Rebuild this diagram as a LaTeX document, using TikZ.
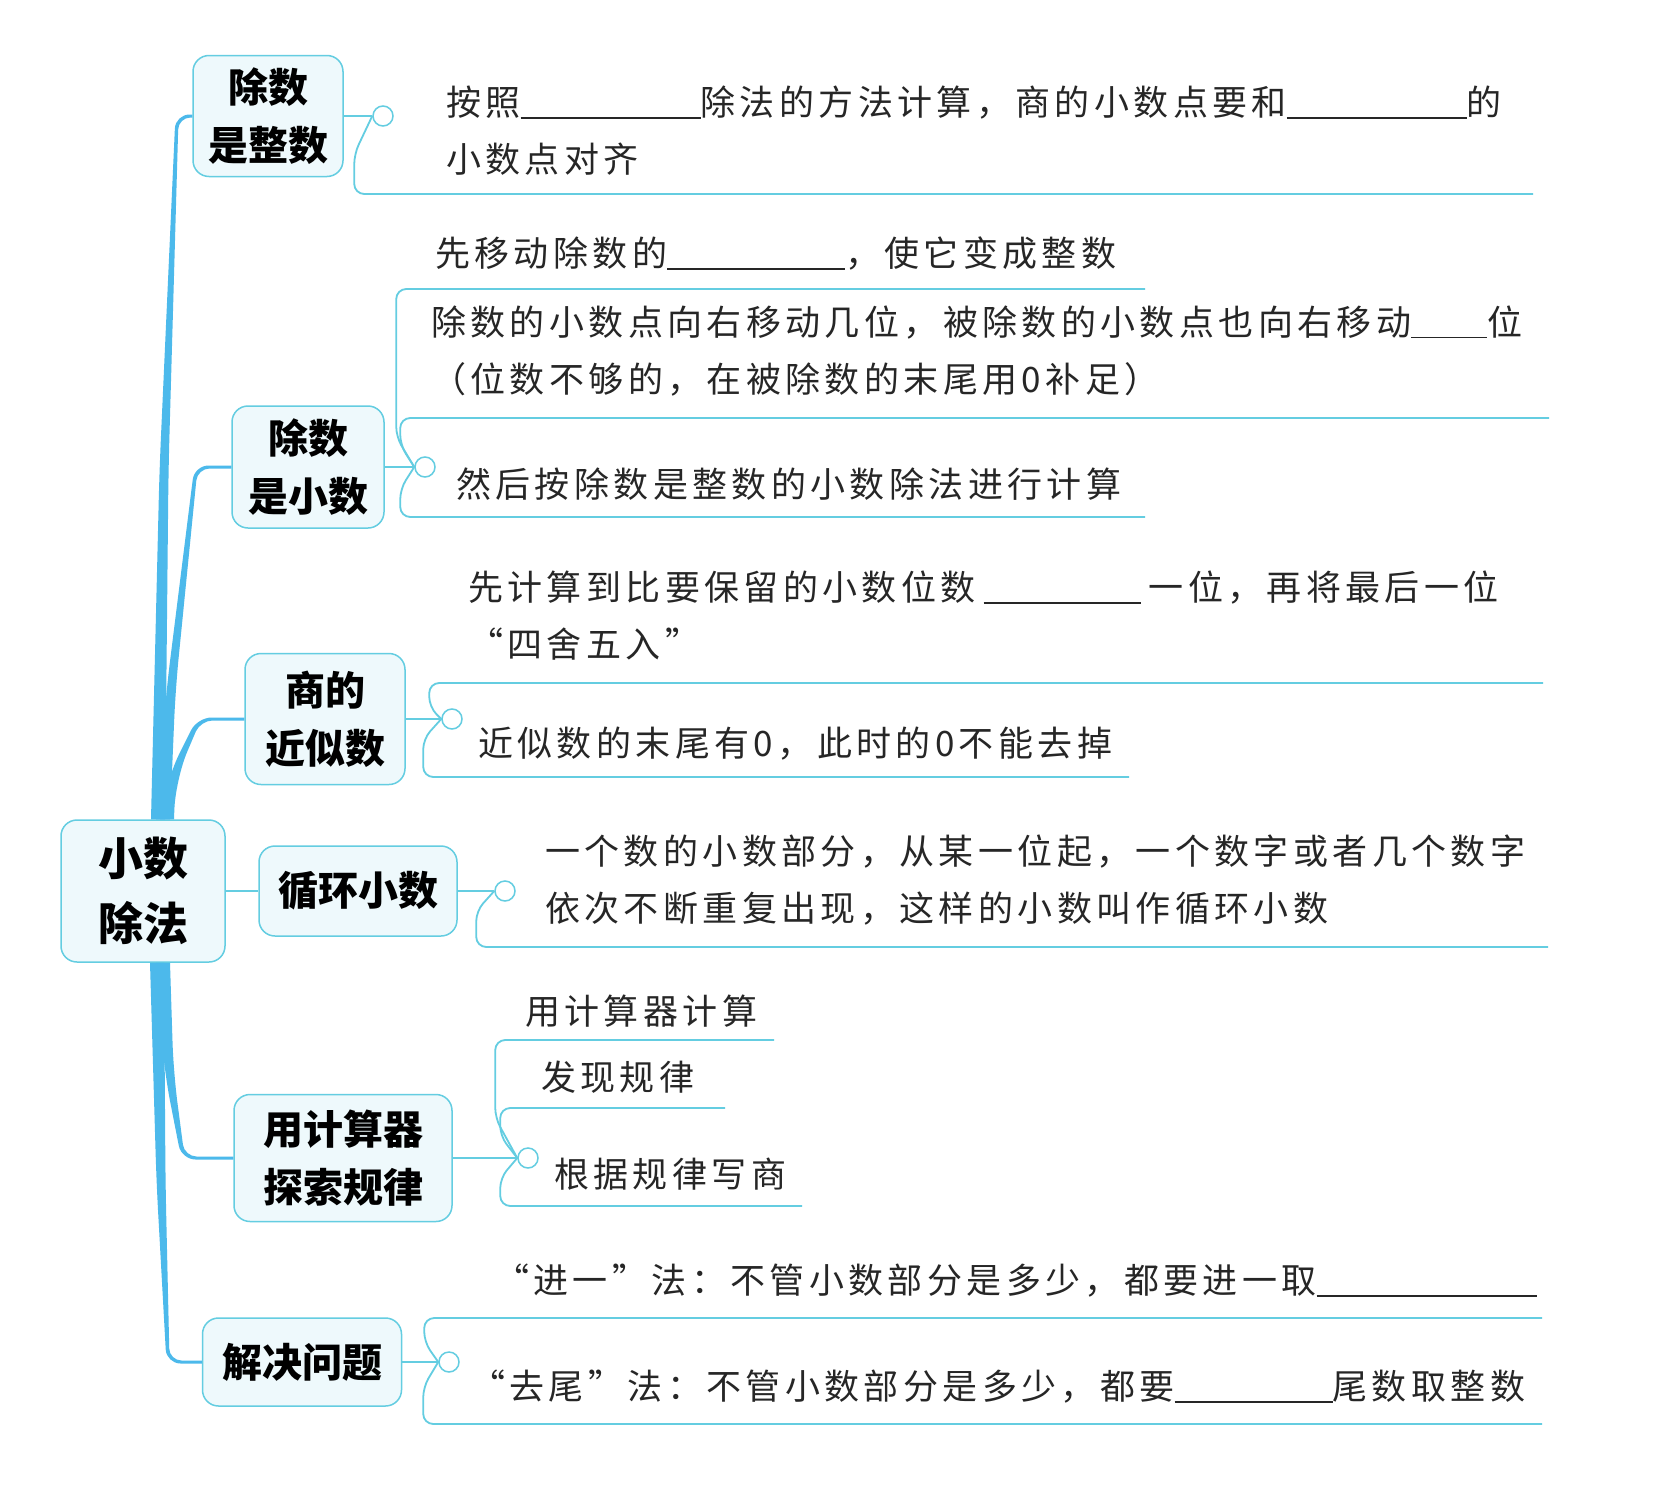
\documentclass[tikz,border=0pt]{standalone}
\usepackage{fontspec}
\usepackage{tikz}
\usetikzlibrary{calc,positioning}
\newfontfamily\hei{Noto Sans CJK SC}
\newfontfamily\kai[LetterSpace=12.5]{Noto Sans CJK SC}
\definecolor{trunkblue}{RGB}{76,185,235}
\definecolor{boxline}{RGB}{100,205,225}
\definecolor{boxfill}{RGB}{238,249,252}
\newcommand{\fillin}[1]{\rule[-3pt]{#1pt}{1.8pt}}

\begin{document}
\begin{tikzpicture}[x=1pt,y=-1pt]

\tikzset{
  topic/.style={draw=boxline, fill=boxfill, rounded corners=16pt, line width=1.5pt,
                font=\hei\bfseries\fontsize{40}{58}\selectfont, align=center, inner sep=0pt},
  knob/.style={circle, draw=boxline, fill=white, line width=1.5pt,
               minimum size=20pt, inner sep=0pt},
  note/.style={anchor=west, inner sep=0pt, align=left, text=black!85,
               font=\kai\fontsize{35}{57}\selectfont},
  stem/.style={boxline, line width=2pt},
  leaf/.style={boxline, line width=1.8pt, rounded corners=10pt},
  trunk/.style={fill=trunkblue}
}

\newcommand{\branch}[5]{
  \fill[trunk] let \p1=(#1), \p2=($(\p1)+(#2)$), \p3=(#4) in
    ({\x1-7pt},\y1) [rounded corners=30pt] -- ({\x2-4.5pt},\y2)
    [rounded corners=14pt] -- ({#3pt-1.5pt},{\y3+#5*1.5pt})
    [sharp corners] -- (\x3,{\y3+#5*1.5pt}) -- (\x3,{\y3-#5*1.5pt})
    [rounded corners=12pt] -- ({#3pt+1.5pt},{\y3-#5*1.5pt})
    [rounded corners=30pt] -- ({\x2+4.5pt},\y2)
    [sharp corners] -- ({\x1+7pt},\y1) -- cycle;
}

% Page
\fill[white] (0,0) rectangle (1655,1491);
\useasboundingbox (0,0) rectangle (1655,1491);

% Root
\node[topic, minimum width=164pt, minimum height=142pt,
      font=\hei\bfseries\fontsize{45}{65}\selectfont] (root) at (143,891) {小数\\除法};

% Topics
\node[topic, minimum width=150pt, minimum height=121pt] (b1) at (268,116) {除数\\是整数};
\node[topic, minimum width=152pt, minimum height=122pt] (b2) at (308,467) {除数\\是小数};
\node[topic, minimum width=160pt, minimum height=131pt] (b3) at (325,719) {商的\\近似数};
\node[topic, minimum width=198pt, minimum height=90pt]  (b4) at (358,891) {循环小数};
\node[topic, minimum width=218pt, minimum height=127pt] (b5) at (343,1158) {用计算器\\探索规律};
\node[topic, minimum width=199pt, minimum height=88pt]  (b6) at (302,1362) {解决问题};

% Trunk
\branch{$(root.north)+(15,0)$}{6,-350}{177}{b1.west}{1}
\branch{$(root.north)+(20,0)$}{8,-130}{196}{b2.west}{1}
\branch{$(root.north)+(24,0)$}{4,-40}{199}{b3.west}{1}
\draw[stem] (root.east) -- (b4.west);
\branch{$(root.south)+(20,0)$}{6,110}{183}{b5.west}{-1}
\branch{$(root.south)+(14,0)$}{4,220}{168}{b6.west}{-1}

% Knobs
\node[knob] (c1) at (383,116) {};
\node[knob] (c2) at (425,467) {};
\node[knob] (c3) at (452,719) {};
\node[knob] (c4) at (505,891) {};
\node[knob] (c5) at (528,1158) {};
\node[knob] (c6) at (449,1362) {};
\foreach \i in {1,...,6}
  \draw[stem] (b\i.east) -- (c\i.west);

% Underline ends
\coordinate (u1)  at (1533,194);
\coordinate (u2a) at (1145,289);
\coordinate (u2b) at (1549,418);
\coordinate (u2c) at (1145,517);
\coordinate (u3a) at (1543,683);
\coordinate (u3b) at (1129,777);
\coordinate (u4)  at (1548,947);
\coordinate (u5a) at (774,1040);
\coordinate (u5b) at (725,1108);
\coordinate (u5c) at (802,1206);
\coordinate (u6a) at (1542,1318);
\coordinate (u6b) at (1542,1424);

% Leaves
\draw[leaf] (c1.west) -- ++(-18,38) |- (u1);
\draw[leaf] (c2.west) -- ++(-18,-30) |- (u2a);
\draw[leaf] (c2.west) -- ++(-14,-22) |- (u2b);
\draw[leaf] (c2.west) -- ++(-14,22) |- (u2c);
\draw[leaf] (c3.west) -- ++(-12,-12) |- (u3a);
\draw[leaf] (c3.west) -- ++(-18,20) |- (u3b);
\draw[leaf] (c4.west) -- ++(-18,20) |- (u4);
\draw[leaf] (c5.west) -- ++(-22,-40) |- (u5a);
\draw[leaf] (c5.west) -- ++(-17,-22) |- (u5b);
\draw[leaf] (c5.west) -- ++(-17,20) |- (u5c);
\draw[leaf] (c6.west) -- ++(-14,-20) |- (u6a);
\draw[leaf] (c6.west) -- ++(-15,25) |- (u6b);

% Notes
\node[note] (t1) at (446,131) {按照\fillin{180}除法的方法计算，商的小数点要和\fillin{180}的\\小数点对齐};
\node[note] (t2a) at (435,254) {先移动除数的\fillin{178}，使它变成整数};
\node[note] (t2b) at (431,351) {除数的小数点向右移动几位，被除数的小数点也向右移动\fillin{76}位\\（位数不够的，在被除数的末尾用0补足）};
\node[note] (t2c) at (456,484) {然后按除数是整数的小数除法进行计算};
\node[note] (t3a) at (468,616) {先计算到比要保留的小数位数\hspace{8pt}\fillin{157}\hspace{8pt}一位，再将最后一位\\“四舍五入”};
\node[note] (t3b) at (478,744) {近似数的末尾有0，此时的0不能去掉};
\node[note] (t4) at (545,880) {一个数的小数部分，从某一位起，一个数字或者几个数字\\依次不断重复出现，这样的小数叫作循环小数};
\node[note] (t5a) at (525,1011) {用计算器计算};
\node[note] (t5b) at (541,1077) {发现规律};
\node[note] (t5c) at (554,1174) {根据规律写商};
\node[note] (t6a) at (494,1281) {“进一”法：不管小数部分是多少，都要进一取\fillin{220}};
\node[note] (t6b) at (470,1387) {“去尾”法：不管小数部分是多少，都要\fillin{158}尾数取整数};

\end{tikzpicture}
\end{document}
